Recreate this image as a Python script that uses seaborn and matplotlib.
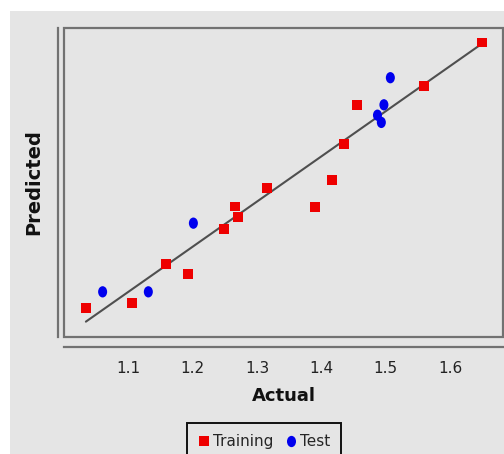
import numpy as np
import pandas as pd
import matplotlib
matplotlib.use("Agg")
import matplotlib.pyplot as plt
from matplotlib.patches import Rectangle
from matplotlib.path import Path
from matplotlib.transforms import Affine2D
import seaborn as sns

# values
train_actual = [1.034, 1.106, 1.159, 1.193, 1.249, 1.266, 1.270, 1.316,
                1.390, 1.416, 1.435, 1.455, 1.559, 1.650]
train_predicted = [1.064, 1.075, 1.161, 1.139, 1.239, 1.289, 1.266, 1.330,
                   1.288, 1.348, 1.427, 1.514, 1.556, 1.652]
test_actual = [1.060, 1.131, 1.201, 1.487, 1.493, 1.497, 1.507]
test_predicted = [1.100, 1.100, 1.252, 1.491, 1.475, 1.514, 1.574]
groups = ["Training", "Test"]

df = pd.DataFrame({
    "Actual": train_actual + test_actual,
    "Predicted": train_predicted + test_predicted,
    "Set": [groups[0]] * len(train_actual) + [groups[1]] * len(test_actual),
})

bg = "#e5e5e5"
frame_col = "#727272"

sns.set_style("white")
plt.rcParams["font.family"] = ["DejaVu Sans"]

fig = plt.figure(figsize=(5.04, 4.54), dpi=100)
fig.patch.set_facecolor("white")
# gray panel behind the chart, leaving a thin white strip top and left
fig.patches.append(Rectangle((10 / 504, 0), 1, (454 - 11) / 454,
                             transform=fig.transFigure, facecolor=bg,
                             edgecolor="none", zorder=-10))

ax = fig.add_axes([0.127, 0.2577, 0.871, 0.6806])
ax.set_facecolor(bg)

# slightly tall ellipse for the test points
ellipse = Path.unit_circle().transformed(Affine2D().scale(0.8, 1.0))

sns.scatterplot(data=df, x="Actual", y="Predicted", hue="Set", style="Set",
                size="Set", sizes={"Training": 50, "Test": 66},
                palette={"Training": "#ee0000", "Test": "#0000ee"},
                markers={"Training": "s", "Test": ellipse},
                linewidth=0, zorder=3, ax=ax)

lo, hi = df["Actual"].min(), df["Actual"].max()
ax.plot([lo, hi], [lo, hi], color="#4f4f4f", lw=1.5, zorder=2)

ax.set_xlim(1.0, 1.682)
ax.set_ylim(1.0, 1.684)
ax.set_xticks([1.1, 1.2, 1.3, 1.4, 1.5, 1.6])
ax.set_yticks([])

# inner frame
ax.add_patch(Rectangle((0, 0), 1, 1, transform=ax.transAxes, fill=False,
                       edgecolor=frame_col, lw=1.6, clip_on=False, zorder=5))
# offset axis lines
for side in ["top", "right"]:
    ax.spines[side].set_visible(False)
ax.spines["left"].set_position(("outward", 4))
ax.spines["bottom"].set_position(("outward", 7))
for side in ["left", "bottom"]:
    ax.spines[side].set_color(frame_col)
    ax.spines[side].set_linewidth(1.6)

ax.tick_params(axis="x", direction="out", length=3, width=1, color=frame_col,
               pad=7, labelsize=11, labelcolor="#222222")

ax.set_xlabel("Actual", fontsize=13, fontweight="bold", color="#111111")
ax.set_ylabel("Predicted", fontsize=14, fontweight="bold", color="#111111")
ax.xaxis.set_label_coords(0.5, -0.162)
ax.yaxis.set_label_coords(-0.048, 0.5)

sns.move_legend(ax, "upper center", bbox_to_anchor=(0.524, 0.0683),
                bbox_transform=fig.transFigure, ncol=2, title=None,
                frameon=True, fancybox=False, fontsize=11,
                handletextpad=0.2, columnspacing=0.7, borderpad=0.75,
                borderaxespad=0, handlelength=0.8, markerscale=1.0)
leg = ax.get_legend()
leg.get_frame().set_edgecolor("#111111")
leg.get_frame().set_linewidth(1.4)
leg.get_frame().set_facecolor(bg)
leg.get_frame().set_alpha(1)

fig.savefig("out.png", dpi=100, facecolor=fig.get_facecolor())
